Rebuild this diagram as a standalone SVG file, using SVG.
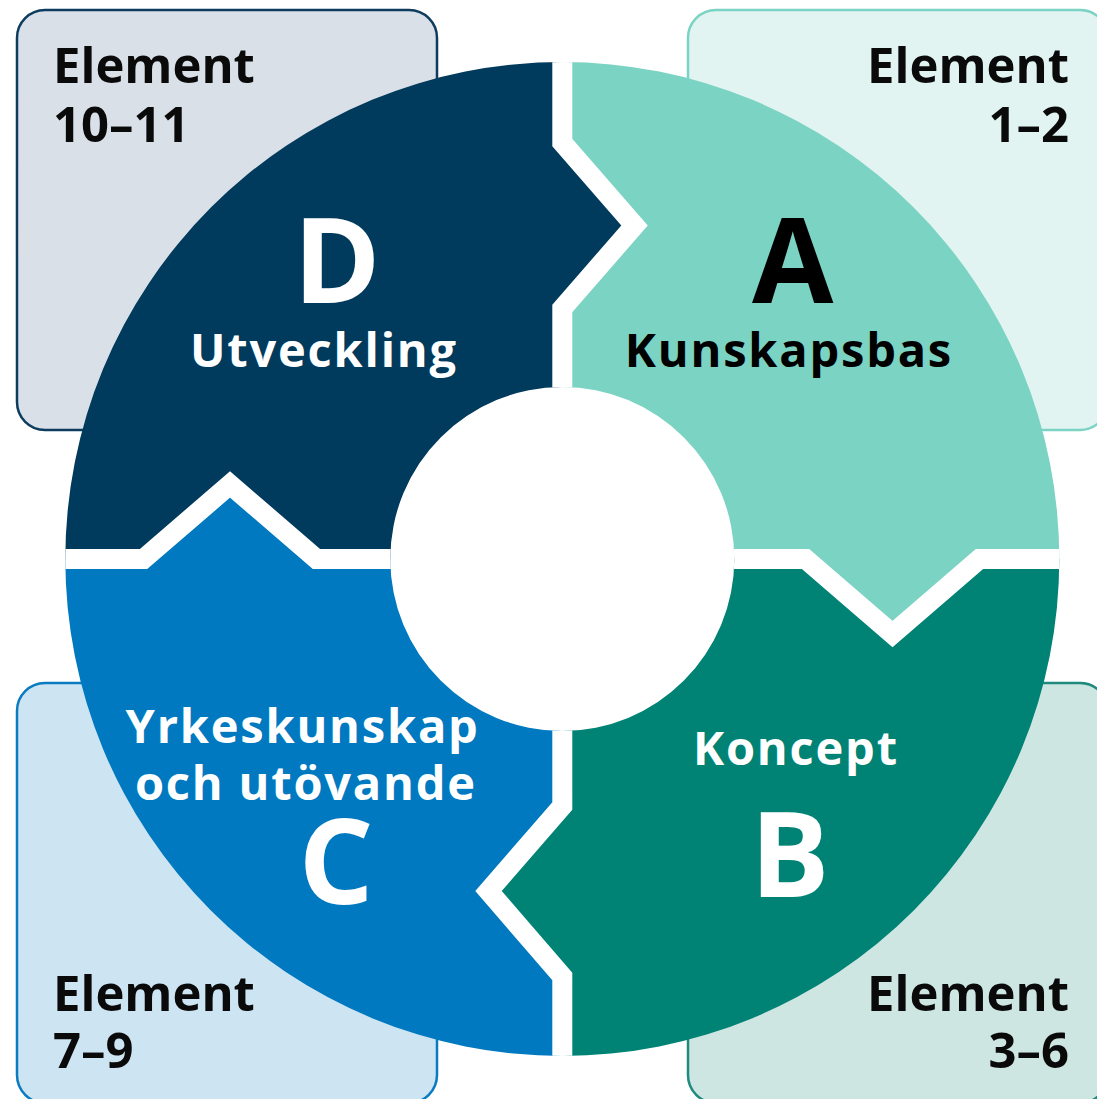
<svg xmlns="http://www.w3.org/2000/svg" width="1097" height="1099" viewBox="0 0 1097 1099">
  <style>
    .txt { font-family: "Open Sans", "Noto Sans", "Liberation Sans", sans-serif; font-weight: 700; }
    .elem { font-size: 49px; fill: #0a0a0a; }
    .big { font-size: 118px; text-anchor: middle; }
    .lbl { font-size: 47px; letter-spacing: 1.8px; text-anchor: middle; }
    .box { stroke-width: 2.5; }
    .gap { fill: none; stroke: #ffffff; stroke-width: 20; stroke-linejoin: miter; stroke-miterlimit: 4; }
  </style>
  <defs>
    <clipPath id="ring">
      <path clip-rule="evenodd" d="M65.3,559 a497,497 0 1,0 994,0 a497,497 0 1,0 -994,0 Z M390.3,559 a172,172 0 1,0 344,0 a172,172 0 1,0 -344,0 Z"/>
    </clipPath>
  </defs>
  <rect width="1097" height="1099" fill="#ffffff"/>

  <g id="box-d">
    <rect class="box" x="17" y="10" width="420" height="420" rx="28" fill="#d9e0e7" stroke="#0e3c5f"/>
    <text class="txt elem" x="53" y="83">Element</text>
    <text class="txt elem" x="53" y="142">10–11</text>
  </g>
  <g id="box-a">
    <rect class="box" x="688" y="10" width="420" height="420" rx="28" fill="#e1f4f1" stroke="#7bd3c3"/>
    <text class="txt elem" x="1069" y="83" text-anchor="end">Element</text>
    <text class="txt elem" x="1069" y="142" text-anchor="end">1–2</text>
  </g>
  <g id="box-c">
    <rect class="box" x="17" y="683" width="420" height="420" rx="28" fill="#cde4f2" stroke="#0a7bc1"/>
    <text class="txt elem" x="53" y="1011">Element</text>
    <text class="txt elem" x="53" y="1068">7–9</text>
  </g>
  <g id="box-b">
    <rect class="box" x="688" y="683" width="420" height="420" rx="28" fill="#cde6e2" stroke="#1f8a7d"/>
    <text class="txt elem" x="1069" y="1011" text-anchor="end">Element</text>
    <text class="txt elem" x="1069" y="1068" text-anchor="end">3–6</text>
  </g>

  <g clip-path="url(#ring)">
    <g id="seg-a">
      <polygon fill="#7bd3c3" points="562.3,0 562.3,142.5 634.5,225.5 562.3,308.5 562.3,559 805.5,559 892.5,634 979.5,559 1097,559 1097,0"/>
    </g>
    <g id="seg-b">
      <polygon fill="#008375" points="562.3,559 805.5,559 892.5,634 979.5,559 1097,559 1097,1099 562.3,1099 562.3,976.5 488.5,891 562.3,806"/>
    </g>
    <g id="seg-c">
      <polygon fill="#0079c0" points="562.3,559 562.3,806 488.5,891 562.3,976.5 562.3,1099 0,1099 0,559 143.5,559 230,484.5 316.5,559"/>
    </g>
    <g id="seg-d">
      <polygon fill="#003a5c" points="562.3,559 316.5,559 230,484.5 143.5,559 0,559 0,0 562.3,0 562.3,142.5 634.5,225.5 562.3,308.5"/>
    </g>
    <g id="connectors">
      <polyline class="gap" points="562.3,40 562.3,142.5 634.5,225.5 562.3,308.5 562.3,420"/>
      <polyline class="gap" points="700,559 805.5,559 892.5,634 979.5,559 1080,559"/>
      <polyline class="gap" points="562.3,700 562.3,806 488.5,891 562.3,976.5 562.3,1080"/>
      <polyline class="gap" points="420,559 316.5,559 230,484.5 143.5,559 40,559"/>
    </g>
  </g>

  <g id="label-d">
    <text class="txt big" x="337" y="303" fill="#ffffff">D</text>
    <text class="txt lbl" x="323.9" y="367" fill="#ffffff">Utveckling</text>
  </g>
  <g id="label-a">
    <text class="txt big" x="792.7" y="303" fill="#000000">A</text>
    <text class="txt lbl" x="788.9" y="367" fill="#000000">Kunskapsbas</text>
  </g>
  <g id="label-b">
    <text class="txt lbl" x="795.9" y="765" fill="#ffffff">Koncept</text>
    <text class="txt big" x="790" y="897" fill="#ffffff">B</text>
  </g>
  <g id="label-c">
    <text class="txt lbl" x="302.6" y="743" fill="#ffffff">Yrkeskunskap</text>
    <text class="txt lbl" x="305.9" y="800" fill="#ffffff">och utövande</text>
    <text class="txt big" x="336" y="904" fill="#ffffff">C</text>
  </g>
</svg>
